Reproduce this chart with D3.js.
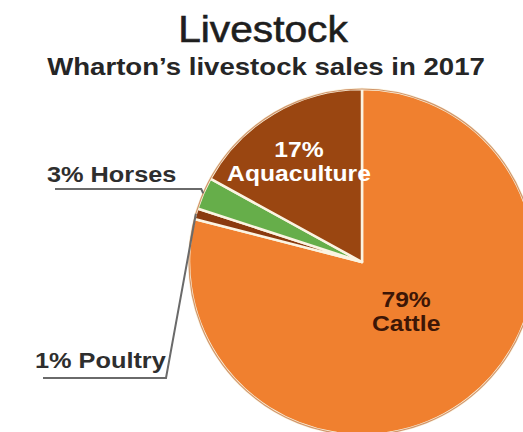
<!DOCTYPE html>
<html>
<head>
<meta charset="utf-8">
<script src="https://cdn.jsdelivr.net/npm/d3@7"></script>
<style>
  html, body { margin: 0; padding: 0; background: #ffffff; }
  svg { display: block; font-family: "Liberation Sans", Arial, Helvetica, sans-serif; }
</style>
</head>
<body>
<svg id="chart" width="523" height="432"></svg>
<script>
// Livestock sales shares, clockwise from 12 o'clock
const categories = ["Cattle", "Poultry", "Horses", "Aquaculture"];
const shares = [79, 1, 3, 17];
const sliceColors = ["#F0802F", "#8A3A0E", "#66AE4A", "#9A4611"];

const titleText = "Livestock";
const subtitleText = "Wharton\u2019s livestock sales in 2017";

const W = 523, H = 432;
const cx = 362, cy = 262, R = 173;

const svg = d3.select("#chart");

// widen a text element horizontally by factor k
function widen(sel, k) {
  sel.each(function () {
    const len = this.getComputedTextLength();
    d3.select(this).attr("textLength", len * k).attr("lengthAdjust", "spacingAndGlyphs");
  });
}

// Titles
svg.append("text")
  .attr("x", 263).attr("y", 42)
  .attr("text-anchor", "middle")
  .attr("font-size", 37)
  .attr("fill", "#1e1e1e")
  .attr("stroke", "#1e1e1e")
  .attr("stroke-width", 0.6)
  .text(titleText)
  .call(widen, 1.1);

svg.append("text")
  .attr("x", 266).attr("y", 75)
  .attr("text-anchor", "middle")
  .attr("font-size", 24)
  .attr("font-weight", "bold")
  .attr("fill", "#262626")
  .text(subtitleText)
  .call(widen, 1.15);

// Pie
const data = categories.map((c, i) => ({ name: c, value: shares[i], color: sliceColors[i] }));
const pie = d3.pie().sort(null).value(d => d.value).startAngle(0).endAngle(2 * Math.PI);
const arcs = pie(data);

const arc = d3.arc().innerRadius(0).outerRadius(R);
const g = svg.append("g").attr("transform", `translate(${cx},${cy})`);

g.selectAll("path.slice")
  .data(arcs)
  .join("path")
  .attr("class", "slice")
  .attr("d", arc)
  .attr("fill", d => d.data.color)
  .attr("stroke", "#FBF4E2")
  .attr("stroke-width", 2.5)
  .attr("stroke-linejoin", "round");

// thin darker rim around the pie
g.append("circle")
  .attr("r", R)
  .attr("fill", "none")
  .attr("stroke", "#B5571B")
  .attr("stroke-width", 1.2)
  .attr("opacity", 0.6);

// Labels inside the two large slices
const inner = {
  Cattle: { r: 72, dx: 0, dy: 0, fill: "#3D1606", size: 22 },
  Aquaculture: { r: 112, dx: -6, dy: 3, fill: "#FFFFFF", size: 22 }
};
arcs.filter(d => inner[d.data.name]).forEach(d => {
  const spec = inner[d.data.name];
  const [lx, ly] = d3.arc().innerRadius(spec.r).outerRadius(spec.r).centroid(d);
  const t = g.append("text")
    .attr("text-anchor", "middle")
    .attr("font-size", spec.size)
    .attr("font-weight", "bold")
    .attr("fill", spec.fill);
  t.append("tspan").attr("x", lx + spec.dx).attr("y", ly + spec.dy - 12).text(d.data.value + "%");
  t.append("tspan").attr("x", lx + spec.dx).attr("y", ly + spec.dy + 12).text(d.data.name);
  t.selectAll("tspan").call(widen, 1.12);
});

// Callout labels for the small slices
const rimArc = d3.arc().innerRadius(R).outerRadius(R);
const callouts = {
  Horses: { tx: 47, ty: 182, lineY: 189, lineX0: 55, bendX: null },
  Poultry: { tx: 35, ty: 368, lineY: 378, lineX0: 43, bendX: 166 }
};
arcs.filter(d => callouts[d.data.name]).forEach(d => {
  const c = callouts[d.data.name];
  const [px, py] = rimArc.centroid(d);
  const ex = cx + px, ey = cy + py;
  const pts = c.bendX === null
    ? [[c.lineX0, c.lineY], [ex - 2, c.lineY], [ex, ey]]
    : [[c.lineX0, c.lineY], [c.bendX, c.lineY], [ex, ey]];
  svg.append("path")
    .attr("d", d3.line()(pts))
    .attr("fill", "none")
    .attr("stroke", "#6A6A6A")
    .attr("stroke-width", 2);
  svg.append("text")
    .attr("x", c.tx).attr("y", c.ty)
    .attr("font-size", 22)
    .attr("font-weight", "bold")
    .attr("fill", "#2E2E2E")
    .text(d.data.value + "% " + d.data.name)
    .call(widen, 1.15);
});
</script>
</body>
</html>
